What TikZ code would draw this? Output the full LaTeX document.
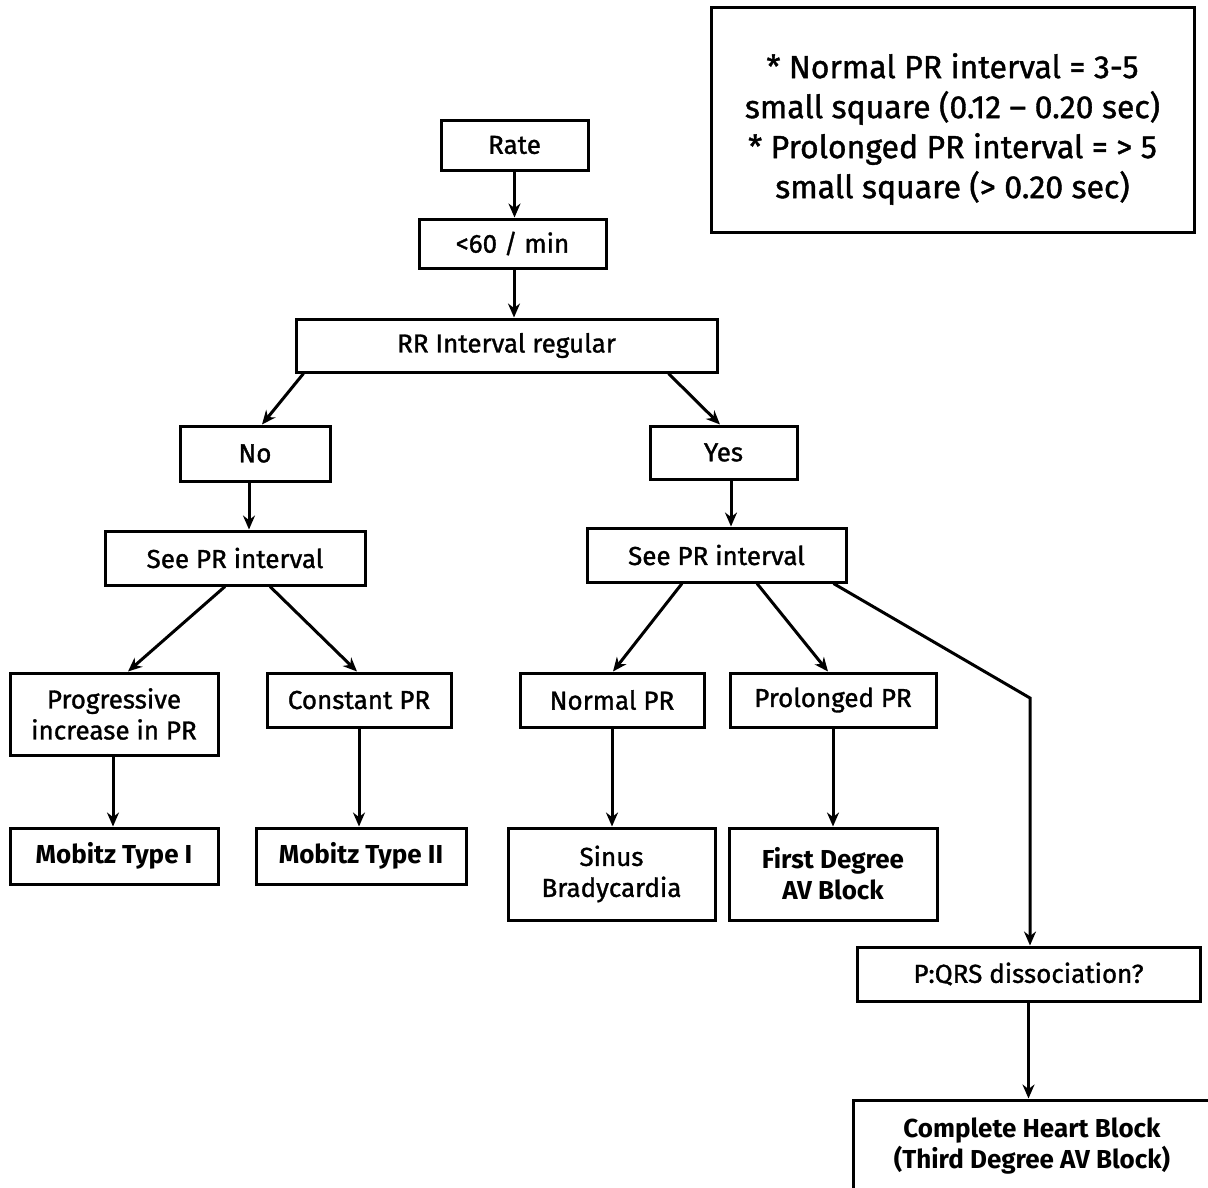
\documentclass[tikz,border=0pt]{standalone}
\usepackage{fontspec}
\setmainfont{Fira Sans}
\newfontfamily\medfont[FakeBold=1.2,Ligatures=TeX]{Fira Sans}
\usetikzlibrary{arrows.meta,calc}
\tikzset{
  box/.style={draw=black, line width=3pt, fill=white, align=center, inner sep=0pt,
    font=\medfont\fontsize{26}{31}\selectfont},
  endbox/.style={box, font=\bfseries\fontsize{26}{31}\selectfont},
  notebox/.style={draw=black, line width=3pt, inner sep=0pt},
  notetext/.style={align=center, inner sep=0pt, font=\medfont\fontsize{32}{40}\selectfont},
  arr/.style={line width=3pt, -{Stealth[length=14pt,width=12pt]}},
}
\begin{document}
\begin{tikzpicture}[x=1pt,y=-1pt]
\useasboundingbox (0,0) rectangle (1208,1187);
% boxes
\node[notebox, minimum width=483pt, minimum height=225pt] (note) at (952.5,119.5) {};
\node[notetext] (notetxt) at (952.5,129)
  {* Normal PR interval = 3-5\\small square (0.12 – 0.20 sec)\\* Prolonged PR interval = > 5\\small square (> 0.20 sec)};
\node[box, minimum width=147pt, minimum height=50pt] (rate) at (514.5,145) {Rate};
\node[box, minimum width=187pt, minimum height=49pt] (lt) at (512.5,243.5) {<60 / min};
\node[box, minimum width=421pt, minimum height=53pt] (rr) at (506.5,345.5) {RR Interval regular};
\node[box, minimum width=150pt, minimum height=55pt] (no) at (255,453.5) {No};
\node[box, minimum width=147pt, minimum height=53pt] (yes) at (723.5,452.5) {Yes};
\node[box, minimum width=260pt, minimum height=54pt] (seel) at (235,558) {See PR interval};
\node[box, minimum width=259pt, minimum height=54pt] (seer) at (716.5,555) {See PR interval};
\node[box, minimum width=208pt, minimum height=82pt] (prog) at (114,714) {Progressive\\increase in PR};
\node[box, minimum width=184pt, minimum height=54pt] (const) at (359,700) {Constant PR};
\node[box, minimum width=184pt, minimum height=54pt] (normal) at (612,700) {Normal PR};
\node[box, minimum width=206pt, minimum height=54pt] (prol) at (833,700) {Prolonged PR};
\node[endbox, minimum width=208pt, minimum height=56pt] (mob1) at (114,856) {Mobitz Type I};
\node[endbox, minimum width=210pt, minimum height=56pt] (mob2) at (361,856) {Mobitz Type II};
\node[box, minimum width=207pt, minimum height=92pt] (sinus) at (611.5,874) {Sinus\\Bradycardia};
\node[endbox, minimum width=208pt, minimum height=92pt] (first) at (833,874) {First Degree\\AV Block};
\node[box, minimum width=343pt, minimum height=54pt] (pqrs) at (1028.5,974) {P:QRS dissociation?};
\node[endbox, minimum width=358pt, minimum height=92pt] (chb) at (1032,1146) {Complete Heart Block\\(Third Degree AV Block)};
% connectors
\draw[arr] (rate.south) -- (rate.south |- lt.north);
\draw[arr] ([xshift=1.5pt]lt.south) -- ([xshift=1.5pt]lt.south |- rr.north);
\draw[arr] ($(rr.south west)+(9,0)$) -- ($(no.north)+(7,0)$);
\draw[arr] ($(rr.south east)+(-50,0)$) -- ($(yes.north)+(-3.5,0)$);
\draw[arr] ([xshift=-6pt]no.south) -- ([xshift=-6pt]no.south |- seel.north);
\draw[arr] ([xshift=7.5pt]yes.south) -- ([xshift=7.5pt]yes.south |- seer.north);
\draw[arr] ($(seel.south)+(-10,0)$) -- ($(prog.north)+(14,0)$);
\draw[arr] ($(seel.south)+(35,0)$) -- ($(const.north)+(-2,0)$);
\draw[arr] ($(seer.south)+(-34.5,0)$) -- ($(normal.north)+(1,0)$);
\draw[arr] ($(seer.south)+(40.5,0)$) -- ($(prol.north)+(-5,0)$);
\coordinate (bend) at (1030,698);
\draw[arr] ($(seer.south east)+(-14,0)$) -- (bend) -- (bend |- pqrs.north);
\draw[arr] ([xshift=-1pt]prog.south) -- ([xshift=-1pt]prog.south |- mob1.north);
\draw[arr] (const.south) -- (const.south |- mob2.north);
\draw[arr] (normal.south) -- (normal.south |- sinus.north);
\draw[arr] (prol.south) -- (prol.south |- first.north);
\draw[arr] (pqrs.south) -- (pqrs.south |- chb.north);
\end{tikzpicture}
\end{document}
